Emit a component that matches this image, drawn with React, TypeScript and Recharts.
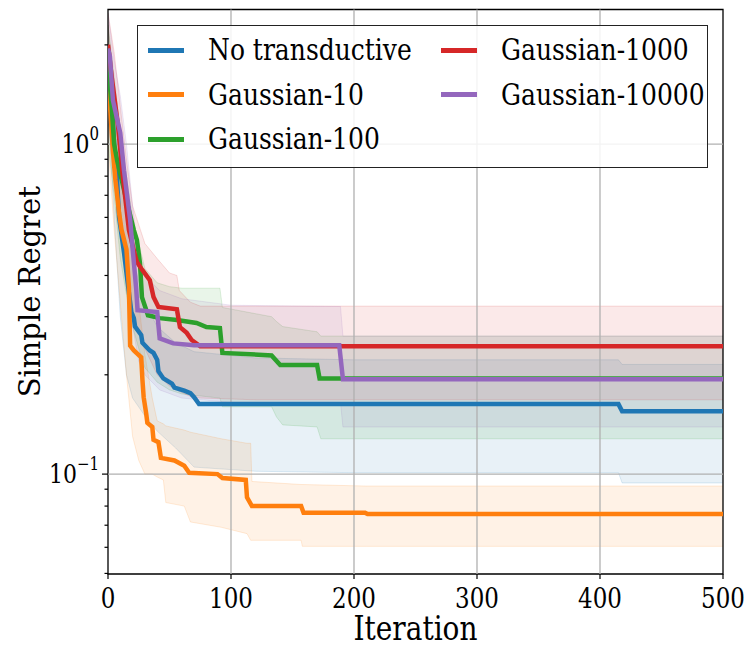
import React from "react"
import {
  ComposedChart,
  Area,
  Line,
  XAxis,
  YAxis,
  ReferenceLine,
  ReferenceArea,
  Label,
} from "recharts"

const FONT = '"DejaVu Serif", "Liberation Serif", "Noto Serif", serif'
const STRETCH = 1.2

const W = 745
const H = 642
const PLOT_LEFT = 100

const ITER_TICKS = [0, 100, 200, 300, 400, 500]
const ITER_GRID = [100, 200, 300, 400]
const REGRET_TICKS = [0.05, 0.06, 0.07, 0.08, 0.09, 0.1, 0.2, 0.3, 0.4, 0.5, 0.6, 0.7, 0.8, 0.9, 1, 2]
const REGRET_GRID = [0.1, 1]
const REGRET_DOMAIN = [0.0498, 2.56]
const MAJOR_EXP: Record<string, string> = { "1": "0", "0.1": "\u22121" }

// [iteration, mean regret]
const noTransMean = [
  [0, 1.85], [3, 1.35], [5, 1.0], [7, 0.83], [9, 0.6], [13, 0.47], [16, 0.38], [19, 0.31], [21, 0.297],
  [22, 0.28], [27, 0.264], [28, 0.25], [34, 0.237], [37, 0.233], [40, 0.222], [41, 0.205],
  [45, 0.195], [52, 0.188], [54, 0.183], [62, 0.179], [67, 0.176], [70, 0.171], [74, 0.163],
  [415, 0.163], [418, 0.155], [500, 0.155],
]
const gauss10Mean = [
  [0, 1.6], [2, 1.25], [4, 0.95], [6, 0.78], [9, 0.62], [11, 0.55], [15, 0.48], [17, 0.37],
  [18, 0.245], [21, 0.237], [27, 0.226], [28, 0.193], [29, 0.171], [31, 0.153], [32, 0.143],
  [36, 0.139], [37, 0.127], [41, 0.125], [43, 0.112], [54, 0.11], [62, 0.106], [66, 0.101],
  [89, 0.1], [93, 0.0973], [112, 0.096], [113, 0.085], [117, 0.08], [157, 0.08], [159, 0.0764],
  [209, 0.0764], [211, 0.0757], [500, 0.0757],
]
const gauss100Mean = [
  [0, 1.75], [3, 1.3], [5, 1.0], [7.5, 0.89], [15, 0.676], [21, 0.549], [23.5, 0.512], [26, 0.436],
  [27.6, 0.344], [32.5, 0.303], [42, 0.297], [56, 0.293], [72, 0.287], [80, 0.279], [91, 0.277],
  [93, 0.233], [133, 0.229], [140, 0.214], [170, 0.214], [172, 0.195], [500, 0.195],
]
const gauss1000Mean = [
  [0, 2.0], [3, 1.6], [8, 1.15], [12, 0.8], [17, 0.55], [22, 0.46], [23.5, 0.439], [28, 0.415],
  [34, 0.387], [37, 0.344], [41, 0.321], [56, 0.316], [58.5, 0.279], [64, 0.268], [68, 0.255],
  [75, 0.244], [500, 0.244],
]
const gauss10000Mean = [
  [0, 1.95], [1.5, 1.85], [4, 1.36], [10, 1.08], [13, 0.834], [18, 0.589], [23, 0.361], [24, 0.314],
  [40, 0.31], [42, 0.258], [53, 0.249], [70, 0.246], [188, 0.246], [191, 0.194], [500, 0.194],
]

// [iteration, lower, upper]
const noTransBand = [
  [0, 1.3, 2.3], [5, 0.6, 1.5], [10, 0.3, 0.95], [15, 0.2, 0.6], [20, 0.17, 0.45], [30, 0.15, 0.33],
  [40, 0.135, 0.28], [55, 0.12, 0.25], [70, 0.105, 0.235], [120, 0.102, 0.225], [200, 0.101, 0.222],
  [415, 0.101, 0.222], [418, 0.094, 0.215], [500, 0.094, 0.215],
]
const gauss10Band = [
  [0, 1.0, 2.3], [5, 0.55, 1.4], [10, 0.33, 0.9], [15, 0.2, 0.6], [20, 0.13, 0.45], [25, 0.11, 0.33],
  [30, 0.1, 0.23], [36, 0.1, 0.17], [40, 0.098, 0.145], [45, 0.096, 0.142], [47, 0.082, 0.14],
  [62, 0.08, 0.136], [67, 0.0716, 0.134], [92, 0.069, 0.128], [113, 0.066, 0.124], [116, 0.063, 0.124],
  [117, 0.063, 0.095], [157, 0.063, 0.093], [158, 0.0604, 0.093], [210, 0.0604, 0.092], [500, 0.0604, 0.092],
]
const gauss100Band = [
  [0, 1.0, 2.3], [5, 0.7, 1.6], [10, 0.45, 1.1], [15, 0.35, 0.8], [20, 0.28, 0.6], [25, 0.24, 0.5],
  [30, 0.21, 0.42], [40, 0.19, 0.38], [50, 0.18, 0.37], [60, 0.175, 0.366], [91, 0.17, 0.366],
  [93, 0.16, 0.32], [133, 0.16, 0.3], [137, 0.149, 0.29], [142, 0.141, 0.28], [170, 0.139, 0.27],
  [173, 0.128, 0.262], [500, 0.128, 0.262],
]
const gauss1000Band = [
  [0, 1.3, 2.5], [5, 0.9, 1.9], [10, 0.6, 1.3], [15, 0.4, 0.9], [20, 0.3, 0.65], [30, 0.24, 0.5],
  [40, 0.2, 0.45], [50, 0.185, 0.407], [56, 0.18, 0.4], [58, 0.178, 0.36], [67, 0.172, 0.332],
  [75, 0.17, 0.323], [120, 0.168, 0.323], [500, 0.168, 0.323],
]
const gauss10000Band = [
  [0, 1.2, 2.5], [5, 0.8, 1.8], [10, 0.6, 1.4], [15, 0.4, 1.0], [20, 0.28, 0.65], [25, 0.22, 0.45],
  [30, 0.2, 0.4], [42, 0.18, 0.36], [60, 0.17, 0.34], [100, 0.165, 0.325], [189, 0.165, 0.322],
  [191, 0.139, 0.262], [500, 0.139, 0.262],
]

const SERIES = [
  { name: "No transductive", color: "#1f77b4", mean: noTransMean, band: noTransBand },
  { name: "Gaussian-10", color: "#ff7f0e", mean: gauss10Mean, band: gauss10Band },
  { name: "Gaussian-100", color: "#2ca02c", mean: gauss100Mean, band: gauss100Band },
  { name: "Gaussian-1000", color: "#d62728", mean: gauss1000Mean, band: gauss1000Band },
  { name: "Gaussian-10000", color: "#9467bd", mean: gauss10000Mean, band: gauss10000Band },
]

// legend is two columns, filled column by column
const LEGEND_COLS = [[0, 1, 2], [3, 4]]

const YTick = (props: any) => {
  const { y, payload } = props
  const exp = MAJOR_EXP[String(payload.value)]
  const len = exp ? 6 : 3.5
  return (
    <g>
      <line x1={PLOT_LEFT - len} x2={PLOT_LEFT} y1={y} y2={y} stroke="#000" strokeWidth={1.2} />
      {exp && (
        <text
          transform={`translate(${PLOT_LEFT - 9}, ${y + 9}) scale(1, ${STRETCH})`}
          textAnchor="end"
          fontFamily={FONT}
          fontSize={22}
          fill="#000"
        >
          10
          <tspan dy={-11} fontSize={15}>{exp}</tspan>
        </text>
      )}
    </g>
  )
}

const XTick = (props: any) => {
  const { x, y, payload } = props
  return (
    <g>
      <line x1={x} x2={x} y1={y} y2={y + 5} stroke="#000" strokeWidth={1.2} />
      <text
        transform={`translate(${x}, ${y + 34}) scale(1, ${STRETCH})`}
        textAnchor="middle"
        fontFamily={FONT}
        fontSize={23}
        fill="#000"
      >
        {payload.value}
      </text>
    </g>
  )
}

const YLabel = (props: any) => {
  const { viewBox } = props
  const cy = viewBox.y + viewBox.height / 2
  return (
    <text
      transform={`translate(32, ${cy}) rotate(-90)`}
      textAnchor="middle"
      fontFamily={FONT}
      fontSize={29}
      fill="#000"
    >
      Simple Regret
    </text>
  )
}

const XLabel = (props: any) => {
  const { viewBox } = props
  const cx = viewBox.x + viewBox.width / 2
  return (
    <text
      transform={`translate(${cx}, 632) scale(1, ${STRETCH})`}
      textAnchor="middle"
      fontFamily={FONT}
      fontSize={28}
      fill="#000"
    >
      Iteration
    </text>
  )
}

function LegendBox() {
  return (
    <div
      style={{
        position: "absolute",
        left: 129,
        top: 17,
        width: 569,
        height: 141,
        border: "1.5px solid #222",
        background: "rgba(255,255,255,0.85)",
        fontFamily: FONT,
        fontSize: 25,
      }}
    >
      {LEGEND_COLS.map((col, c) =>
        col.map((idx, r) => {
          const s = SERIES[idx]
          const left = c === 0 ? 10 : 303
          const top = 24 + r * 44.5
          return (
            <div key={s.name}>
              <div
                style={{
                  position: "absolute",
                  left,
                  top: top - 2.5,
                  width: 36,
                  height: 5,
                  background: s.color,
                }}
              />
              <div
                style={{
                  position: "absolute",
                  left: left + 60,
                  top: top - 18,
                  lineHeight: "36px",
                  whiteSpace: "nowrap",
                  transform: `scaleY(${STRETCH})`,
                }}
              >
                {s.name}
              </div>
            </div>
          )
        })
      )}
    </div>
  )
}

export default function App() {
  return (
    <div style={{ position: "relative", width: W, height: H }}>
      <ComposedChart width={W} height={H} margin={{ top: 1.5, right: 30, bottom: 16, left: 0 }}>
        <XAxis
          dataKey="it"
          type="number"
          domain={[0, 500]}
          ticks={ITER_TICKS}
          allowDataOverflow
          tick={<XTick />}
          tickLine={false}
          axisLine={false}
          tickSize={0}
          tickMargin={0}
          height={60}
        >
          <Label content={<XLabel />} />
        </XAxis>
        <YAxis
          type="number"
          scale="log"
          domain={REGRET_DOMAIN}
          allowDataOverflow
          ticks={REGRET_TICKS}
          interval={0}
          tick={<YTick />}
          tickLine={false}
          axisLine={false}
          tickSize={0}
          tickMargin={0}
          width={100}
        >
          <Label content={<YLabel />} />
        </YAxis>

        {SERIES.map((s) => (
          <Area
            key={s.name + "-band"}
            data={s.band.map(([it, lo, hi]) => ({ it, range: [lo, hi] }))}
            dataKey="range"
            type="linear"
            stroke={s.color}
            strokeOpacity={0.15}
            strokeWidth={1}
            fill={s.color}
            fillOpacity={0.1}
            isAnimationActive={false}
            dot={false}
            activeDot={false}
          />
        ))}

        {ITER_GRID.map((v) => (
          <ReferenceLine key={"gx" + v} x={v} stroke="#b0b0b0" strokeWidth={1.3} />
        ))}
        {REGRET_GRID.map((v) => (
          <ReferenceLine key={"gy" + v} y={v} stroke="#b0b0b0" strokeWidth={1.3} />
        ))}

        {SERIES.map((s) => (
          <Line
            key={s.name}
            data={s.mean.map(([it, v]) => ({ it, v }))}
            dataKey="v"
            type="linear"
            stroke={s.color}
            strokeWidth={4.5}
            dot={false}
            activeDot={false}
            isAnimationActive={false}
          />
        ))}

        <ReferenceArea
          x1={0}
          x2={500}
          y1={REGRET_DOMAIN[0]}
          y2={REGRET_DOMAIN[1]}
          fill="none"
          stroke="#000"
          strokeWidth={1.3}
          ifOverflow="visible"
        />
      </ComposedChart>
      <LegendBox />
    </div>
  )
}
